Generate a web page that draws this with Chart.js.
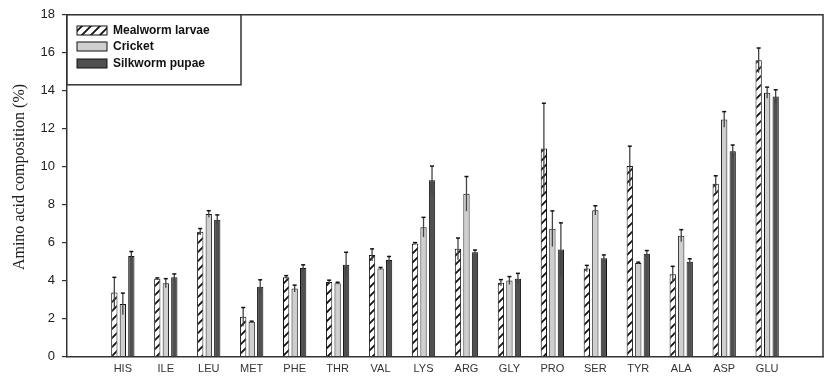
<!DOCTYPE html>
<html>
<head>
<meta charset="utf-8">
<script src="https://cdn.jsdelivr.net/npm/chart.js@4.4.1/dist/chart.umd.min.js"></script>
<style>
  html, body { margin: 0; padding: 0; background: #fff; }
  #wrap { width: 827px; height: 382px; position: relative; }
</style>
</head>
<body>
<div id="wrap"><canvas id="c" width="827" height="382"></canvas></div>
<script>
const categories = ['HIS','ILE','LEU','MET','PHE','THR','VAL','LYS','ARG','GLY','PRO','SER','TYR','ALA','ASP','GLU'];
const seriesNames = ['Mealworm larvae', 'Cricket', 'Silkworm pupae'];
const mealworm    = [3.37, 4.09, 6.57, 2.09, 4.18, 3.93, 5.35, 5.95, 5.67, 3.88, 10.96, 4.63, 10.03, 4.33, 9.10, 15.60];
const mealwormErr = [0.80, 0.05, 0.17, 0.49, 0.08, 0.09, 0.32, 0.05, 0.57, 0.17, 2.38, 0.17, 1.05, 0.42, 0.42, 0.65];
const cricket     = [2.77, 3.86, 7.51, 1.83, 3.58, 3.86, 4.64, 6.81, 8.57, 4.00, 6.73, 7.70, 4.92, 6.36, 12.49, 13.90];
const cricketErr  = [0.57, 0.24, 0.17, 0.03, 0.18, 0.05, 0.05, 0.52, 0.91, 0.21, 0.94, 0.24, 0.05, 0.32, 0.41, 0.29];
const silkworm    = [5.30, 4.18, 7.21, 3.67, 4.66, 4.83, 5.08, 9.28, 5.49, 4.09, 5.63, 5.17, 5.41, 4.99, 10.81, 13.69];
const silkwormErr = [0.23, 0.17, 0.25, 0.37, 0.17, 0.66, 0.19, 0.75, 0.12, 0.29, 1.41, 0.18, 0.17, 0.16, 0.33, 0.36];
const yTicks = [0, 2, 4, 6, 8, 10, 12, 14, 16, 18];
const yTitle = 'Amino acid composition (%)';

function hatchPattern() {
  const n = 9;
  const p = document.createElement('canvas');
  p.width = n; p.height = n;
  const g = p.getContext('2d');
  g.fillStyle = '#fff';
  g.fillRect(0, 0, n, n);
  g.strokeStyle = '#111';
  g.lineWidth = 1.8;
  g.beginPath();
  g.moveTo(-1, n + 1); g.lineTo(n + 1, -1);
  g.moveTo(-1, 1); g.lineTo(1, -1);
  g.moveTo(n - 1, n + 1); g.lineTo(n + 1, n - 1);
  g.stroke();
  return document.getElementById('c').getContext('2d').createPattern(p, 'repeat');
}
const hatch = hatchPattern();

const fills = [hatch, '#cfcfcf', '#505050'];
const errs = [mealwormErr, cricketErr, silkwormErr];
const vals = [mealworm, cricket, silkworm];

const datasets = vals.map((v, k) => ({
  label: seriesNames[k],
  data: v.map((y, i) => ({ x: i, y: y })),
  backgroundColor: fills[k],
  borderColor: '#111',
  borderWidth: 1,
  categoryPercentage: 0.594,
  barPercentage: 0.74,
  errors: errs[k]
}));

const errorBars = {
  id: 'errorBars',
  afterDatasetsDraw(chart) {
    const ctx = chart.ctx;
    const ys = chart.scales.y;
    chart.data.datasets.forEach((ds, k) => {
      const meta = chart.getDatasetMeta(k);
      meta.data.forEach((el, i) => {
        const v = ds.data[i].y, e = ds.errors[i];
        const top = ys.getPixelForValue(v + e);
        const bot = ys.getPixelForValue(v - e);
        ctx.save();
        ctx.strokeStyle = '#444';
        ctx.lineWidth = 1.3;
        ctx.beginPath();
        ctx.moveTo(el.x, bot); ctx.lineTo(el.x, top);
        ctx.stroke();
        ctx.strokeStyle = '#111';
        ctx.lineWidth = 1.5;
        ctx.beginPath();
        ctx.moveTo(el.x - 2, top); ctx.lineTo(el.x + 2, top);
        ctx.stroke();
        ctx.restore();
      });
    });
  }
};

const frame = {
  id: 'frame',
  afterDraw(chart) {
    const { ctx, chartArea: a } = chart;
    ctx.save();
    ctx.strokeStyle = '#333';
    ctx.lineWidth = 1.5;
    ctx.beginPath();
    ctx.moveTo(a.left, a.top); ctx.lineTo(a.right, a.top); ctx.lineTo(a.right, a.bottom);
    ctx.stroke();
    // legend box
    const lx = a.left, ly = a.top, lw = 174, lh = 70;
    ctx.fillStyle = '#fff';
    ctx.fillRect(lx, ly, lw, lh);
    ctx.strokeRect(lx, ly, lw, lh);
    const rows = [30.5, 46.5, 63.5];
    ctx.font = 'bold 12px "Liberation Sans", Arial, sans-serif';
    ctx.textBaseline = 'middle';
    rows.forEach((ry, k) => {
      ctx.fillStyle = fills[k];
      ctx.fillRect(77, ry - 4.5, 30, 9);
      ctx.strokeStyle = '#111';
      ctx.lineWidth = 1;
      ctx.strokeRect(77, ry - 4.5, 30, 9);
      ctx.fillStyle = '#111';
      ctx.fillText(seriesNames[k], 113, ry);
    });
    // y axis title
    ctx.translate(20, 177);
    ctx.rotate(-Math.PI / 2);
    ctx.font = '16px "Liberation Serif", "Times New Roman", serif';
    ctx.fillStyle = '#222';
    ctx.textAlign = 'center';
    ctx.textBaseline = 'middle';
    ctx.fillText(yTitle, 0, 0);
    ctx.restore();
  }
};

new Chart(document.getElementById('c'), {
  type: 'bar',
  data: { datasets },
  options: {
    responsive: false,
    animation: false,
    layout: { padding: { left: 0, top: 11, right: 4, bottom: 0 } },
    plugins: { legend: { display: false }, tooltip: { enabled: false } },
    scales: {
      x: {
        type: 'linear',
        min: -1.3,
        max: 16.3,
        offset: false,
        grid: { display: false, drawTicks: false },
        border: { display: true, color: '#333', width: 1.5 },
        afterBuildTicks(scale) { scale.ticks = categories.map((c, i) => ({ value: i })); },
        afterFit(scale) { scale.height = 25.5; },
        ticks: {
          autoSkip: false, maxRotation: 0, padding: 6,
          color: '#333',
          font: { family: '"Liberation Sans", Arial, sans-serif', size: 11 },
          callback: (v) => categories[v] !== undefined ? categories[v] : ''
        }
      },
      y: {
        min: 0, max: 18,
        afterBuildTicks(scale) { scale.ticks = yTicks.map(v => ({ value: v })); },
        afterFit(scale) { scale.width = 67; },
        grid: { display: true, drawOnChartArea: false, drawTicks: true, tickLength: 5, color: '#333', lineWidth: 1.2 },
        border: { display: true, color: '#333', width: 1.5 },
        ticks: {
          padding: 7, color: '#222',
          font: { family: '"Liberation Sans", Arial, sans-serif', size: 13 }
        },
        title: { display: false }
      }
    }
  },
  plugins: [errorBars, frame]
});
</script>
</body>
</html>
